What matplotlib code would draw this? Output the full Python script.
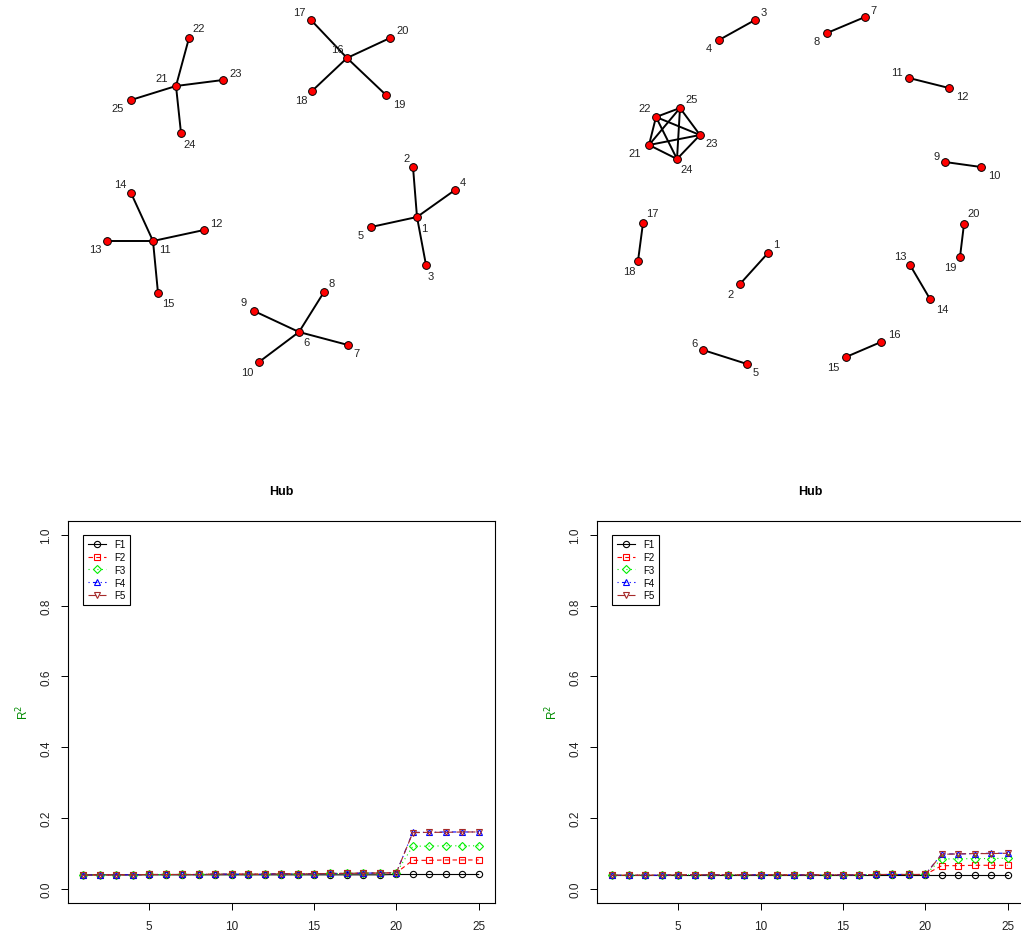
import matplotlib
matplotlib.use("Agg")
import matplotlib.pyplot as plt

plt.rcParams['font.family'] = ['Liberation Sans', 'DejaVu Sans']

# ---------------- network layouts (canvas pixel coordinates) ----------------
node_ids = list(range(1, 26))

# star ("hub") network
hub_x = [417, 413, 426, 455, 371, 299, 348, 324, 254, 259, 153, 204, 107, 131, 158,
         347, 311, 312, 386, 390, 176, 189, 223, 181, 131]
hub_y = [218, 168, 266, 191, 228, 333, 346, 293, 312, 363, 242, 231, 242, 194, 294,
         59, 21, 92, 96, 39, 87, 39, 81, 134, 101]
hub_edges = [(1, 2), (1, 3), (1, 4), (1, 5),
             (6, 7), (6, 8), (6, 9), (6, 10),
             (11, 12), (11, 13), (11, 14), (11, 15),
             (16, 17), (16, 18), (16, 19), (16, 20),
             (21, 22), (21, 23), (21, 24), (21, 25)]
hub_lab_dx = [7, -6, 5, 8, -10, 7, 8, 8, -10, -12, 12, 12, -12, -11, 10,
              -10, -12, -11, 13, 13, -14, 10, 13, 9, -13]
hub_lab_dy = [11, -9, 11, -8, 8, 10, 8, -9, -9, 10, 8, -7, 8, -9, 10,
              -9, -8, 9, 9, -8, -8, -10, -7, 11, 8]

# pairs + one clique network
clq_x = [768, 740, 755, 719, 747, 703, 865, 827, 945, 981, 909, 949, 910, 930, 846,
         881, 643, 638, 960, 964, 649, 656, 700, 677, 680]
clq_y = [254, 285, 21, 41, 365, 351, 18, 34, 163, 168, 79, 89, 266, 300, 358,
         343, 224, 262, 258, 225, 146, 118, 136, 160, 109]
clq_edges = [(1, 2), (3, 4), (5, 6), (7, 8), (9, 10), (11, 12), (13, 14), (15, 16),
             (17, 18), (19, 20),
             (21, 22), (21, 23), (21, 24), (21, 25), (22, 23), (22, 24), (22, 25),
             (23, 24), (23, 25), (24, 25)]
clq_lab_dx = [8, -9, 9, -10, 9, -9, 8, -10, -8, 13, -12, 13, -10, 12, -13,
              13, 9, -9, -10, 10, -14, -11, 12, 10, 12]
clq_lab_dy = [-9, 10, -8, 8, 8, -7, -7, 8, -6, 8, -6, 8, -9, 10, 10,
              -8, -10, 10, 10, -11, 8, -9, 8, 10, -9]

# ---------------- R^2 curves ----------------
steps = list(range(1, 26))
series_names = ["F1", "F2", "F3", "F4", "F5"]

left_F1 = [0.040, 0.040, 0.040, 0.040, 0.040, 0.040, 0.040, 0.040, 0.040, 0.040,
           0.040, 0.040, 0.040, 0.040, 0.040, 0.040, 0.040, 0.040, 0.040, 0.041,
           0.041, 0.041, 0.041, 0.041, 0.041]
left_base = [0.039, 0.040, 0.040, 0.040, 0.041, 0.041, 0.041, 0.041, 0.042, 0.042,
             0.042, 0.042, 0.043, 0.043, 0.043, 0.044, 0.044, 0.045, 0.045, 0.046]
left_F2 = left_base + [0.081, 0.081, 0.082, 0.082, 0.082]
left_F3 = left_base + [0.121, 0.121, 0.122, 0.122, 0.122]
left_F4 = left_base + [0.160, 0.160, 0.161, 0.161, 0.161]
left_F5 = left_base + [0.159, 0.160, 0.160, 0.161, 0.161]

right_F1 = [0.040] * 25
right_base = [0.039, 0.039, 0.039, 0.039, 0.040, 0.040, 0.040, 0.040, 0.040, 0.040,
              0.040, 0.040, 0.040, 0.040, 0.040, 0.040, 0.041, 0.041, 0.041, 0.041]
right_F2 = right_base + [0.066, 0.066, 0.067, 0.067, 0.067]
right_F3 = right_base + [0.085, 0.085, 0.086, 0.086, 0.087]
right_F4 = right_base + [0.099, 0.099, 0.100, 0.101, 0.101]
right_F5 = right_base + [0.098, 0.099, 0.100, 0.100, 0.101]

x_ticks = [5, 10, 15, 20, 25]
y_ticks = [0.0, 0.2, 0.4, 0.6, 0.8, 1.0]
panel_title = "Hub"

colors = ["black", "red", "#00ee00", "blue", "#a52a2a"]
styles = ["-", (0, (4, 3)), (0, (1, 3)), (0, (1, 3, 4, 3)), (0, (7, 3))]
markers = ["o", "s", "D", "^", "v"]
msizes = [4.5, 4.2, 4.0, 4.8, 4.8]

W, H, DPI = 1021, 937, 100
fig = plt.figure(figsize=(W / DPI, H / DPI), dpi=DPI)

# ---------------- networks ----------------
net = fig.add_axes([0, 0, 1, 1])
net.set_xlim(0, W)
net.set_ylim(H, 0)
net.axis("off")


def draw_network(xs, ys, edges, ldx, ldy):
    for a, b in edges:
        net.plot([xs[a - 1], xs[b - 1]], [ys[a - 1], ys[b - 1]],
                 color="black", lw=1.4, zorder=1, solid_capstyle="round")
    net.plot(xs, ys, ls="none", marker="o", ms=5.6, mfc="#ff0000",
             mec="black", mew=0.7, zorder=2)
    for i, nid in enumerate(node_ids):
        net.text(xs[i] + ldx[i], ys[i] + ldy[i], str(nid), fontsize=8,
                 color="#222222", ha="center", va="center", zorder=3)


draw_network(hub_x, hub_y, hub_edges, hub_lab_dx, hub_lab_dy)
draw_network(clq_x, clq_y, clq_edges, clq_lab_dx, clq_lab_dy)

# ---------------- R^2 panels ----------------
ax_w, ax_h = 426.9 / W, 382.7 / H
ax_b = (H - 904.2) / H
panels = [
    (67.6 / W, [left_F1, left_F2, left_F3, left_F4, left_F5]),
    (596.6 / W, [right_F1, right_F2, right_F3, right_F4, right_F5]),
]

for left, data in panels:
    ax = fig.add_axes([left, ax_b, ax_w, ax_h])
    for vals, c, ls, m, ms, name in zip(data, colors, styles, markers, msizes, series_names):
        ax.plot(steps, vals, color=c, ls=ls, lw=0.8, marker=m, ms=ms,
                mfc="none", mec=c, mew=0.8, label=name)
    ax.set_xlim(0.04, 25.96)
    ax.set_ylim(-0.04, 1.04)
    ax.set_xticks(x_ticks)
    ax.set_yticks(y_ticks)
    ax.set_yticklabels([f"{v:.1f}" for v in y_ticks], rotation=90, va="center")
    ax.tick_params(direction="out", length=5, width=0.7, labelsize=8.5,
                   color="black", labelcolor="#222222")
    ax.tick_params(axis="x", pad=7)
    ax.tick_params(axis="y", pad=6)
    for s in ax.spines.values():
        s.set_linewidth(0.8)
        s.set_color("black")
    ax.set_ylabel("R$^2$", color="#008b00", fontsize=8.5, va="center")
    ax.yaxis.set_label_coords(-0.105, 0.5)
    ax.text(0.5, 1.077, panel_title, transform=ax.transAxes, ha="center",
            va="center", fontsize=9, fontweight="bold")
    leg = ax.legend(loc="upper left", bbox_to_anchor=(0.0368, 0.962),
                    borderaxespad=0, fontsize=7, frameon=True, fancybox=False,
                    edgecolor="black", framealpha=1, handlelength=1.9,
                    handletextpad=0.8, labelspacing=0.28, borderpad=0.45)
    leg.get_frame().set_linewidth(0.8)

fig.savefig("out.png", dpi=DPI)
